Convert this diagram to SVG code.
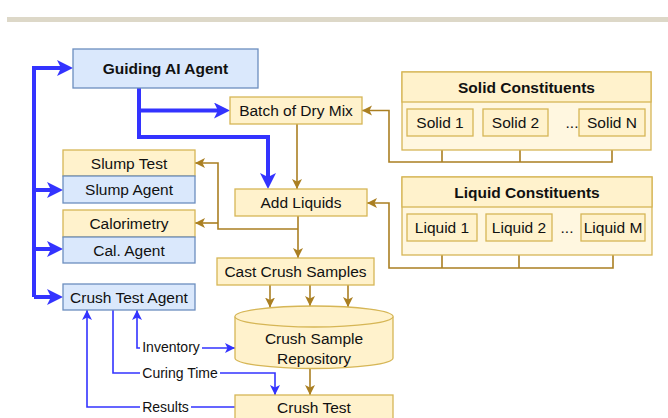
<svg xmlns="http://www.w3.org/2000/svg" width="668" height="418" viewBox="0 0 668 418">
<style>
text{font-family:"Liberation Sans",Arial,sans-serif;font-size:15.5px;fill:#111;text-anchor:middle}
.b{font-weight:bold}
.lbl{font-size:14px}
.o{fill:#fff2cc;stroke:#d6b656;stroke-width:1.3}
.ob{fill:#fff7e0;stroke:#d6b656;stroke-width:1.3}
.bl{fill:#dae8fc;stroke:#6c8ebf;stroke-width:1.3}
.co{fill:none;stroke:#aa7f22;stroke-width:1.6}
.cb{fill:none;stroke:#3333ff;stroke-width:4}
.ct{fill:none;stroke:#3333ff;stroke-width:1.6}
</style>
<defs>
<marker id="ab" markerUnits="userSpaceOnUse" markerWidth="18" markerHeight="18" refX="8" refY="8" orient="auto"><path d="M0,0 L16,8 L0,16 L4,8 z" fill="#3333ff"/></marker>
<marker id="at" markerUnits="userSpaceOnUse" markerWidth="12" markerHeight="12" refX="10" refY="5" orient="auto-start-reverse"><path d="M0,0 L10,5 L0,10 L2.5,5 z" fill="#3333ff"/></marker>
<marker id="ao" markerUnits="userSpaceOnUse" markerWidth="12" markerHeight="12" refX="10" refY="5" orient="auto"><path d="M0,0 L10,5 L0,10 L2.5,5 z" fill="#aa7f22"/></marker>
</defs>
<rect x="7" y="17" width="661" height="5" fill="#ddd8c8"/>
<g id="connectors">
<path class="cb" d="M34 297 V68 H65" marker-end="url(#ab)"/>
<path class="cb" d="M34 190 H55" marker-end="url(#ab)"/>
<path class="cb" d="M34 249 H55" marker-end="url(#ab)"/>
<path class="cb" d="M34 297 H55" marker-end="url(#ab)"/>
<path class="cb" d="M139 88 V137 H268 V181" marker-end="url(#ab)"/>
<path class="cb" d="M139 110.5 H222" marker-end="url(#ab)"/>
<path class="co" d="M297 124 V189" marker-end="url(#ao)"/>
<path class="co" d="M298 216 V258" marker-end="url(#ao)"/>
<path class="co" d="M298 229 H218 V163 H195" marker-end="url(#ao)"/>
<path class="co" d="M218 223 H195" marker-end="url(#ao)"/>
<path class="co" d="M270 285 V307.5" marker-end="url(#ao)"/>
<path class="co" d="M310 285 V306" marker-end="url(#ao)"/>
<path class="co" d="M348 285 V307" marker-end="url(#ao)"/>
<path class="co" d="M310 369 V395" marker-end="url(#ao)"/>
<path class="co" d="M442 136 V162 M520 136 V162"/>
<path class="co" d="M612 136 V162 H389 V110.5 H362" marker-end="url(#ao)"/>
<path class="co" d="M442 241 V268 M519 241 V268"/>
<path class="co" d="M613 241 V268 H389 V203 H367" marker-end="url(#ao)"/>
<path class="ct" d="M235 407 H87 V310" marker-end="url(#at)"/>
<path class="ct" d="M113 310 V373 H275 V395" marker-end="url(#at)"/>
<path class="ct" d="M137 310 V348 H235" marker-start="url(#at)" marker-end="url(#at)"/>
<rect x="140" y="339" width="62" height="17" fill="#fff"/>
<text class="lbl" x="171" y="352">Inventory</text>
<rect x="140" y="365" width="80" height="17" fill="#fff"/>
<text class="lbl" x="180" y="378">Curing Time</text>
<rect x="140" y="399" width="51" height="17" fill="#fff"/>
<text class="lbl" x="165.5" y="412">Results</text>
</g>
<g id="guiding"><rect class="bl" x="73" y="49" width="185" height="39"/><text class="b" x="165.5" y="74">Guiding AI Agent</text></g>
<g id="batch"><rect class="o" x="230" y="97" width="132" height="27"/><text x="296" y="116">Batch of Dry Mix</text></g>
<g id="addliquids"><rect class="o" x="235" y="189" width="132" height="27"/><text x="301" y="208">Add Liquids</text></g>
<g id="slump"><rect class="o" x="63" y="150" width="132" height="26"/><text x="129" y="168.5">Slump Test</text>
<rect class="bl" x="63" y="176" width="132" height="27"/><text x="129" y="195">Slump Agent</text></g>
<g id="calorimetry"><rect class="o" x="63" y="210" width="132" height="27"/><text x="129" y="229">Calorimetry</text>
<rect class="bl" x="63" y="237" width="132" height="26"/><text x="129" y="255.5">Cal. Agent</text></g>
<g id="crushagent"><rect class="bl" x="63" y="284" width="132" height="26"/><text x="129" y="302.5">Crush Test Agent</text></g>
<g id="cast"><rect class="o" x="217" y="258" width="157" height="27"/><text x="295.5" y="277">Cast Crush Samples</text></g>
<g id="repository"><path class="o" d="M235 316.5 A79 10.5 0 0 1 393 316.5 V358 A79 10.5 0 0 1 235 358 Z"/><path class="o" d="M235 316.5 A79 10.5 0 0 0 393 316.5" fill="none"/>
<text x="314" y="344">Crush Sample</text><text x="314" y="364">Repository</text></g>
<g id="crushtest"><rect class="o" x="235" y="395" width="158" height="30"/><text x="314" y="413">Crush Test</text></g>
<g id="solids"><rect class="ob" x="402" y="72" width="249" height="78"/><rect class="o" x="402" y="72" width="249" height="30"/><text class="b" x="526.5" y="92.5">Solid Constituents</text>
<rect class="o" x="407" y="109" width="66" height="27"/><text x="440" y="128">Solid 1</text>
<rect class="o" x="483" y="109" width="65" height="27"/><text x="515.5" y="128">Solid 2</text>
<text x="572" y="128">...</text>
<rect class="o" x="579" y="109" width="66" height="27"/><text x="612" y="128">Solid N</text></g>
<g id="liquids"><rect class="ob" x="402" y="177" width="250" height="78"/><rect class="o" x="402" y="177" width="250" height="30"/><text class="b" x="527" y="197.5">Liquid Constituents</text>
<rect class="o" x="407" y="214" width="70" height="27"/><text x="442" y="233">Liquid 1</text>
<rect class="o" x="486" y="214" width="66" height="27"/><text x="519" y="233">Liquid 2</text>
<text x="567" y="233">...</text>
<rect class="o" x="581" y="214" width="64" height="27"/><text x="613" y="233">Liquid M</text></g>
</svg>
